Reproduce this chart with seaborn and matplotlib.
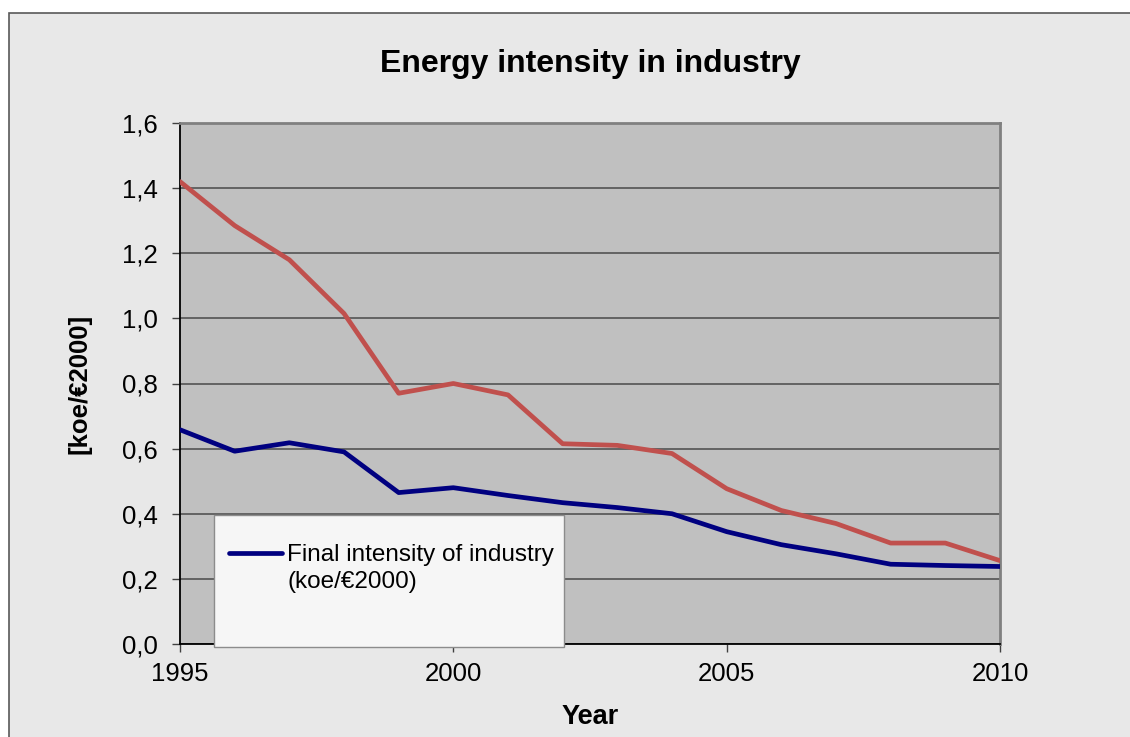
import matplotlib
matplotlib.use("Agg")
import matplotlib.pyplot as plt
from matplotlib.patches import Rectangle
from matplotlib.lines import Line2D
from matplotlib.ticker import FuncFormatter
import pandas as pd
import seaborn as sns

# Energy intensity of industry, koe per euro (2000 prices)
years = list(range(1995, 2011))
primary_intensity = [1.42, 1.285, 1.18, 1.015, 0.77, 0.80, 0.765, 0.615, 0.61, 0.585,
                     0.477, 0.41, 0.37, 0.31, 0.31, 0.256]
final_intensity = [0.658, 0.592, 0.618, 0.59, 0.465, 0.48, 0.456, 0.434, 0.419, 0.40,
                   0.345, 0.305, 0.277, 0.245, 0.241, 0.238]
series_names = ["Primary intensity of industry (koe/€2000)",
                "Final intensity of industry (koe/€2000)"]
legend_lines = ["Final intensity of industry", "(koe/€2000)"]
series_colors = ["#c0504d", "#000080"]
y_ticks = [0.0, 0.2, 0.4, 0.6, 0.8, 1.0, 1.2, 1.4, 1.6]
x_ticks = [1995, 2000, 2005, 2010]

df = pd.concat([
    pd.DataFrame({"Year": years, "value": primary_intensity, "series": series_names[0]}),
    pd.DataFrame({"Year": years, "value": final_intensity, "series": series_names[1]}),
])

sns.set_theme(style="white")
plt.rcParams["font.family"] = ["Liberation Sans", "DejaVu Sans"]
plt.rcParams["text.color"] = "black"
plt.rcParams["axes.labelcolor"] = "black"
plt.rcParams["xtick.color"] = "black"
plt.rcParams["ytick.color"] = "black"

fig = plt.figure(figsize=(11.3, 7.37), dpi=100, facecolor="white")
W, H = 1130, 737

# chart frame
fig.patches.append(Rectangle((9 / W, -0.01), 1.0, 1 - 13 / H + 0.01,
                             transform=fig.transFigure, facecolor="#e8e8e8",
                             edgecolor="#595959", linewidth=1.2, zorder=-10))

ax = fig.add_axes([180 / W, 1 - 644 / H, 820 / W, 521 / H])
ax.set_facecolor("#c0c0c0")

sns.lineplot(data=df, x="Year", y="value", hue="series", palette=series_colors,
             hue_order=series_names, linewidth=3.4, legend=False, ax=ax,
             zorder=3)

ax.set_xlim(1995, 2010)
ax.set_ylim(0, 1.6)
ax.set_xticks(x_ticks)
ax.set_yticks(y_ticks)
ax.yaxis.set_major_formatter(FuncFormatter(lambda v, p: f"{v:.1f}".replace(".", ",")))
ax.grid(axis="y", color="#4a4a4a", linewidth=1.1, zorder=1)
ax.grid(axis="x", visible=False)
ax.set_axisbelow(True)

for side in ["left", "bottom"]:
    ax.spines[side].set_color("black")
    ax.spines[side].set_linewidth(1.3)
for side in ["top", "right"]:
    ax.spines[side].set_color("#808080")
    ax.spines[side].set_linewidth(2.0)

ax.tick_params(axis="both", which="major", direction="out", length=6, width=1,
               color="#404040", labelsize=18.5, labelcolor="black")
ax.tick_params(axis="y", pad=10, left=True)
ax.tick_params(axis="x", pad=7, bottom=True)

ax.set_title("Energy intensity in industry", fontsize=23, fontweight="bold",
             pad=37, color="black")
ax.set_xlabel("Year", fontsize=19.5, fontweight="bold", labelpad=13)
ax.set_ylabel("[koe/€2000]", fontsize=18.5, fontweight="bold", labelpad=22)

# legend box
ax.add_patch(Rectangle((34 / 820, -3 / 521), 350 / 820, 132 / 521,
                       transform=ax.transAxes, facecolor="#f6f6f6",
                       edgecolor="#8c8c8c", linewidth=1.0, zorder=5, clip_on=False))
handles = [Line2D([], [], color=series_colors[1], linewidth=3.4),
           Line2D([], [], color="none")]
leg = ax.legend(handles, legend_lines, loc="upper left",
                bbox_to_anchor=(49 / 820, 1 - 421 / 521), frameon=False,
                fontsize=17.5, handlelength=2.2, handletextpad=0.2,
                labelspacing=0.22, borderaxespad=0, borderpad=0,
                labelcolor="black")
leg.set_zorder(6)

fig.savefig("out.png", dpi=100, facecolor=fig.get_facecolor())
